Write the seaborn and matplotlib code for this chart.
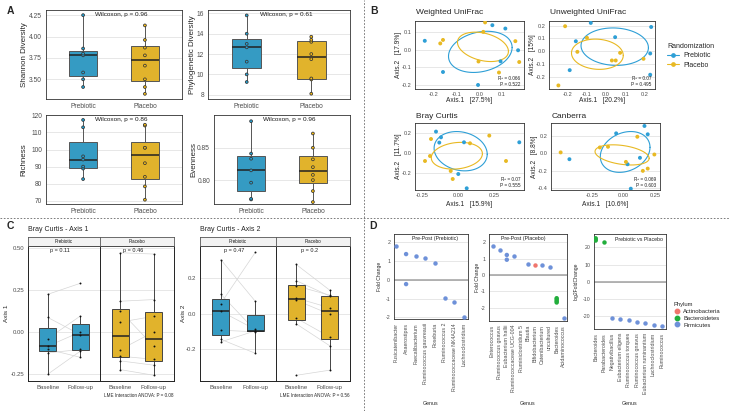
import numpy as np
import pandas as pd
import matplotlib
matplotlib.use("Agg")
import matplotlib.pyplot as plt
from matplotlib.lines import Line2D
import seaborn as sns

sns.set_style("white")
plt.rcParams["font.family"] = ["Liberation Sans", "DejaVu Sans"]
plt.rcParams["axes.unicode_minus"] = False

W, H = 729, 411

# ---------------- Panel A data ----------------
groups = ["Prebiotic", "Placebo"]
shannon_prebiotic = [3.41, 3.50, 3.58, 3.78, 3.80, 3.86, 4.25]
shannon_placebo = [3.33, 3.41, 3.50, 3.66, 3.78, 3.87, 3.96, 4.13]
pd_prebiotic = [9.25, 10.0, 11.25, 12.66, 13.0, 14.0, 15.8]
pd_placebo = [8.1, 9.5, 9.6, 11.5, 12.0, 13.2, 13.4, 13.7]
richness_prebiotic = [82.7, 88.8, 90.0, 94.1, 96.0, 113.0, 117.3]
richness_placebo = [70.6, 78.4, 84.0, 92.0, 101.0, 101.0, 114.0, 114.5]
evenness_prebiotic = [0.770, 0.771, 0.796, 0.815, 0.833, 0.841, 0.891]
evenness_placebo = [0.766, 0.783, 0.800, 0.808, 0.820, 0.832, 0.850, 0.872]
wilcoxon_p = ["0.96", "0.61", "0.86", "0.96"]

# ---------------- Panel B data ----------------
wu_pre_x = [-0.24, -0.16, 0.057, 0.114, 0.17, 0.093, -0.006]
wu_pre_y = [0.052, -0.126, 0.141, 0.122, -0.002, -0.065, -0.2]
wu_pla_x = [-0.172, -0.16, 0.025, 0.017, 0.158, 0.175, -0.004, 0.086]
wu_pla_y = [0.037, 0.057, 0.157, 0.103, 0.05, -0.069, -0.066, -0.129]

uu_pre_x = [-0.08, 0.235, 0.047, -0.158, 0.23, -0.19, 0.23]
uu_pre_y = [0.222, 0.19, 0.11, 0.078, -0.018, -0.149, -0.185]
uu_pla_x = [-0.214, -0.10, 0.073, 0.03, 0.05, 0.195, -0.249, -0.15]
uu_pla_y = [0.196, 0.105, -0.013, -0.073, -0.073, -0.06, -0.269, -0.005]

bc_pre_x = [-0.156, -0.121, -0.133, 0.04, 0.427, 0.0, 0.059]
bc_pre_y = [0.217, 0.16, 0.107, 0.11, 0.11, -0.207, -0.35]
bc_pla_x = [-0.191, 0.082, 0.217, 0.334, -0.198, -0.053, -0.039, -0.233]
bc_pla_y = [0.143, 0.10, 0.177, -0.077, -0.027, -0.177, -0.257, -0.077]

ca_pre_x = [-0.433, -0.06, 0.166, 0.192, 0.13, 0.031, 0.057]
ca_pre_y = [-0.066, 0.231, 0.316, 0.22, -0.05, -0.124, -0.405]
ca_pla_x = [-0.503, -0.19, -0.125, 0.109, 0.245, 0.018, 0.153, 0.192]
ca_pla_y = [0.012, 0.069, 0.077, 0.192, -0.012, -0.097, -0.2, -0.174]

beta_titles = ["Weighted UniFrac", "Unweighted UniFrac", "Bray Curtis", "Canberra"]
beta_axis1 = ["27.5%", "20.2%", "15.9%", "10.6%"]
beta_axis2 = ["17.9%", "15%", "11.7%", "8.8%"]
beta_r2 = ["0.066", "0.07", "0.07", "0.069"]
beta_p = ["0.522", "0.495", "0.555", "0.603"]

# ---------------- Panel C data ----------------
times = ["Baseline", "Follow-up"]
c1_pre_base = [0.226, 0.089, -0.038, -0.083, -0.101, -0.123, -0.25]
c1_pre_follow = [0.292, -0.014, 0.097, 0.002, -0.149, -0.102, -0.112]
c1_pla_base = [0.474, 0.185, 0.127, 0.061, -0.103, -0.142, -0.17, -0.222]
c1_pla_follow = [0.466, 0.195, -0.083, 0.095, 0.002, -0.161, -0.196, -0.256]
c2_pre_base = [0.304, 0.109, 0.056, 0.013, -0.094, -0.145, -0.16]
c2_pre_follow = [0.069, -0.096, 0.344, -0.09, -0.103, -0.224, -0.098]
c2_pla_base = [0.276, 0.185, 0.155, 0.087, 0.075, -0.026, -0.058, -0.348]
c2_pla_follow = [0.131, 0.098, 0.103, 0.032, -0.004, -0.132, -0.182, -0.319]
c1_p = ["0.11", "0.46"]
c2_p = ["0.47", "0.2"]
lme_p = ["0.08", "0.56"]

# ---------------- Panel D data ----------------
phyla = ["Actinobacteria", "Bacteroidetes", "Firmicutes"]
d1_order = ["Fusicatenibacter", "Anaerostipes", "Faecalibacterium", "Ruminococcus gauvreauii",
            "Roseburia", "Ruminococcus 2", "Ruminococcaceae NK4A214", "Lachnoclostridium"]
d1_genus = ["Fusicatenibacter", "Anaerostipes", "Anaerostipes", "Faecalibacterium",
            "Ruminococcus gauvreauii", "Roseburia", "Ruminococcus 2", "Ruminococcaceae NK4A214",
            "Lachnoclostridium"]
d1_fc = [1.78, 1.37, -0.23, 1.28, 1.17, 0.91, -0.96, -1.19, -2.0]
d1_phylum = ["Firmicutes"] * 9

d2_order = ["Enterococcus", "Ruminococcus gnavus", "Eubacterium hallii", "Ruminococcaceae UCG-004",
            "Ruminiclostridium 5", "Blautia", "Bifidobacterium", "Catenibacterium", "uncultured",
            "Bacteroides", "Acidaminococcus"]
d2_genus = ["Enterococcus", "Ruminococcus gnavus", "Eubacterium hallii", "Eubacterium hallii",
            "Ruminococcaceae UCG-004", "Blautia", "Bifidobacterium", "Catenibacterium", "uncultured",
            "Bacteroides", "Bacteroides", "Bacteroides", "Bacteroides", "Acidaminococcus"]
d2_fc = [1.75, 1.5, 1.22, 0.93, 1.13, 0.67, 0.61, 0.6, 0.51, -1.42, -1.5, -1.6, -1.68, -2.65]
d2_phylum = ["Firmicutes"] * 6 + ["Actinobacteria", "Firmicutes", "Firmicutes"] + \
            ["Bacteroidetes"] * 4 + ["Firmicutes"]

d3_order = ["Bacteroides", "Parabacteroides", "Negativibacillus", "Eubacterium eligens",
            "Ruminococcus torques", "Ruminococcus gnavus", "Eubacterium ruminantium",
            "Lachnoclostridium", "Ruminococcus"]
d3_genus = ["Bacteroides", "Bacteroides", "Bacteroides", "Parabacteroides", "Negativibacillus",
            "Eubacterium eligens", "Ruminococcus torques", "Ruminococcus gnavus",
            "Eubacterium ruminantium", "Lachnoclostridium", "Ruminococcus"]
d3_lfc = [25.2, 24.5, 23.9, 23.2, -20.8, -21.4, -22.0, -23.2, -24.1, -25.1, -25.5]
d3_phylum = ["Bacteroidetes"] * 4 + ["Firmicutes"] * 7

# ---------------- styles ----------------
box_pal = {"Prebiotic": "#1EA5DA", "Placebo": "#FFC20E"}
pt_pal = {"Prebiotic": "#2E9FD6", "Placebo": "#E8B923"}
phylum_pal = {"Actinobacteria": "#F0766D", "Bacteroidetes": "#22AE3C", "Firmicutes": "#6E91D9"}
SPINE = "#333333"
TICKC = "#4D4D4D"
GRID = "#E3E3E3"

fig = plt.figure(figsize=(W / 100, H / 100), dpi=100)


def px_axes(l, t, r, b):
    return fig.add_axes([l / W, 1 - b / H, (r - l) / W, (b - t) / H])


def ftext(x, y, s, **kw):
    fig.text(x / W, 1 - y / H, s, **kw)


def style(ax, fs=4.8, spine=SPINE, lw=0.6, pad=1.2):
    for sp in ax.spines.values():
        sp.set_visible(True)
        sp.set_color(spine)
        sp.set_linewidth(lw)
    ax.tick_params(length=1.6, width=0.4, color=SPINE, labelcolor=TICKC, labelsize=fs, pad=pad)
    ax.set_axisbelow(True)
    ax.grid(axis="y", color=GRID, lw=0.6)
    ax.grid(axis="x", visible=False)
    ax.set_xlabel("")
    ax.set_ylabel("")


# ---------------- Panel A ----------------
def alpha_panel(box, pre, pla, ylim, yticks, ylab, ylab_x, ptxt):
    ax = px_axes(*box)
    df = pd.DataFrame({"group": ["Prebiotic"] * len(pre) + ["Placebo"] * len(pla),
                       "value": pre + pla})
    sns.boxplot(data=df, x="group", y="value", hue="group", order=groups, hue_order=groups,
                palette=box_pal, width=0.45, showfliers=False, showcaps=False,
                linecolor="#555555", linewidth=0.7,
                medianprops=dict(color="#222222", linewidth=1.1), legend=False, ax=ax)
    sns.stripplot(data=df, x="group", y="value", hue="group", order=groups, hue_order=groups,
                  palette=box_pal, jitter=False, size=2.0, linewidth=0.6, edgecolor="#3a3a3a",
                  legend=False, ax=ax)
    ax.set_xlim(-0.6, 1.6)
    ax.set_ylim(*ylim)
    ax.set_yticks([v for v, _ in yticks])
    ax.set_yticklabels([s for _, s in yticks])
    style(ax, fs=4.8)
    ax.text(0.55, 0.945, "Wilcoxon, p = " + ptxt, transform=ax.transAxes, ha="center",
            va="center", fontsize=4.6, color="#1a1a1a")
    l, t, r, b = box
    ftext(ylab_x, (t + b) / 2, ylab, rotation=90, ha="center", va="center", fontsize=5.8)
    return ax


alpha_panel((46, 10, 182, 99), shannon_prebiotic, shannon_placebo, (3.27, 4.31),
            [(3.5, "3.50"), (3.75, "3.75"), (4.0, "4.00"), (4.25, "4.25")],
            "Shannon Diversity", 24, wilcoxon_p[0])
alpha_panel((208, 10, 350, 99), pd_prebiotic, pd_placebo, (7.58, 16.33),
            [(8, "8"), (10, "10"), (12, "12"), (14, "14"), (16, "16")],
            "Phylogenetic Diversity", 192, wilcoxon_p[1])
alpha_panel((46, 115, 182, 204), richness_prebiotic, richness_placebo, (68.1, 120.2),
            [(70, "70"), (80, "80"), (90, "90"), (100, "100"), (110, "110"), (120, "120")],
            "Richness", 24, wilcoxon_p[2])
alpha_panel((214, 115, 350, 204), evenness_prebiotic, evenness_placebo, (0.763, 0.9006),
            [(0.80, "0.80"), (0.85, "0.85")],
            "Evenness", 194, wilcoxon_p[3])


# ---------------- Panel B ----------------
def conf_ellipse(xv, yv, level=0.95, npoint=100):
    """Confidence ellipse around the group barycentre (cov / n, chi-square radius)."""
    pts = np.column_stack([xv, yv])
    mu = pts.mean(axis=0)
    cov = np.cov(pts.T) / len(xv)
    t = np.sqrt(-2.0 * np.log(1.0 - level))
    ang = np.linspace(0, 2 * np.pi, npoint)
    circ = np.column_stack([np.cos(ang), np.sin(ang)])
    L = np.linalg.cholesky(cov)
    e = mu + t * (circ @ L.T)
    return e[:, 0], e[:, 1]


def beta_panel(box, px_, py_, qx_, qy_, xlim, ylim, xt, yt, i, ylab_x, xlab_y, title_y):
    ax = px_axes(*box)
    df = pd.DataFrame({"Axis.1": px_ + qx_, "Axis.2": py_ + qy_,
                       "Randomization": ["Prebiotic"] * len(px_) + ["Placebo"] * len(qx_)})
    sns.scatterplot(data=df, x="Axis.1", y="Axis.2", hue="Randomization", hue_order=groups,
                    palette=pt_pal, s=8, linewidth=0, legend=False, ax=ax, zorder=3)
    for g in groups:
        sub = df[df["Randomization"] == g]
        ex, ey = conf_ellipse(sub["Axis.1"].to_numpy(), sub["Axis.2"].to_numpy())
        ax.plot(ex, ey, color=pt_pal[g], lw=0.8, zorder=2)
    ax.set_xlim(*xlim)
    ax.set_ylim(*ylim)
    ax.set_xticks([v for v, _ in xt])
    ax.set_xticklabels([s for _, s in xt])
    ax.set_yticks([v for v, _ in yt])
    ax.set_yticklabels([s for _, s in yt])
    style(ax, fs=4.1, pad=0.8)
    ax.text(0.965, 0.155, "R\u00b2 = " + beta_r2[i], transform=ax.transAxes, ha="right",
            va="center", fontsize=3.4, color="#222222")
    ax.text(0.965, 0.06, "P = " + beta_p[i], transform=ax.transAxes, ha="right",
            va="center", fontsize=3.4, color="#222222")
    l, t, r, b = box
    ftext(l + 1, title_y, beta_titles[i], ha="left", va="center", fontsize=6)
    ftext((l + r) / 2, xlab_y, "Axis.1   [" + beta_axis1[i] + "]", ha="center",
          va="center", fontsize=4.8)
    ftext(ylab_x, (t + b) / 2, "Axis.2   [" + beta_axis2[i] + "]", rotation=90,
          ha="center", va="center", fontsize=4.8)
    return ax


t1 = [(-0.2, "-0.2"), (-0.1, "-0.1"), (0.0, "0.0"), (0.1, "0.1")]
t2 = [(-0.2, "-0.2"), (-0.1, "-0.1"), (0.0, "0.0"), (0.1, "0.1"), (0.2, "0.2")]
t3 = [(-0.25, "-0.25"), (0.0, "0.00"), (0.25, "0.25")]
t4 = [(-0.2, "-0.2"), (0.0, "0.0"), (0.2, "0.2")]
t5 = [(-0.4, "-0.4"), (-0.2, "-0.2"), (0.0, "0.0"), (0.2, "0.2")]

beta_panel((415, 21, 524, 89), wu_pre_x, wu_pre_y, wu_pla_x, wu_pla_y,
           (-0.283, 0.196), (-0.223, 0.165), t1, t1, 0, 399, 100, 13)
beta_panel((549, 21, 655, 89), uu_pre_x, uu_pre_y, uu_pla_x, uu_pla_y,
           (-0.298, 0.255), (-0.297, 0.237), t2, t2, 1, 533, 100, 13)
beta_panel((415, 123, 524, 190), bc_pre_x, bc_pre_y, bc_pla_x, bc_pla_y,
           (-0.303, 0.46), (-0.367, 0.303), t3, t4, 2, 399, 204, 116)
beta_panel((551, 123, 660, 190), ca_pre_x, ca_pre_y, ca_pla_x, ca_pla_y,
           (-0.58, 0.29), (-0.42, 0.35), t3, t5, 3, 534, 204, 116)

handles = [Line2D([0], [0], color=pt_pal[g], marker="o", markersize=2.4, lw=0.8) for g in groups]
leg = fig.legend(handles, groups, title="Randomization", loc="upper left",
                 bbox_to_anchor=(667 / W, 1 - 43 / H), frameon=False, fontsize=5,
                 title_fontsize=5, handlelength=1.7, handletextpad=0.6, labelspacing=0.35,
                 borderpad=0, borderaxespad=0)
leg._legend_box.align = "left"


# ---------------- Panel C ----------------
def c_facet(box, strip_label, base, fol, color, ylim, yticks, show_y, ptxt):
    ax = px_axes(*box)
    n = len(base)
    df = pd.DataFrame({"time": ["Baseline"] * n + ["Follow-up"] * n, "value": base + fol})
    for s in range(n):
        ax.plot([times.index("Baseline"), times.index("Follow-up")], [base[s], fol[s]],
                color="#D6D6D6", lw=0.5, zorder=1)
    sns.boxplot(data=df, x="time", y="value", order=times, color=color, width=0.5,
                showfliers=False, showcaps=False, linecolor="#444444", linewidth=0.7,
                medianprops=dict(color="#222222", linewidth=1.1), ax=ax)
    sns.stripplot(data=df, x="time", y="value", order=times, color="#111111", jitter=False,
                  size=1.4, linewidth=0, ax=ax)
    ax.set_xlim(-0.6, 1.6)
    ax.set_ylim(*ylim)
    ax.set_yticks([v for v, _ in yticks])
    ax.set_yticklabels([s for _, s in yticks] if show_y else [])
    style(ax, fs=4.3, spine="#222222", lw=0.7)
    if not show_y:
        ax.tick_params(axis="y", length=0)
    ax.text(0.45, 0.963, "p = " + ptxt, transform=ax.transAxes, ha="center", va="center",
            fontsize=4, color="#222222")
    l, t, r, b = box
    sax = px_axes(l, t - 9, r, t)
    sax.set_xticks([])
    sax.set_yticks([])
    sax.set_facecolor("#F2F2F2")
    for sp in sax.spines.values():
        sp.set_color("#555555")
        sp.set_linewidth(0.6)
    sax.text(0.5, 0.5, strip_label, transform=sax.transAxes, ha="center", va="center",
             fontsize=3.3, color="#1a1a1a")
    return ax


ya1 = [(-0.25, "-0.25"), (0.0, "0.00"), (0.25, "0.25"), (0.5, "0.50")]
ya2 = [(-0.2, "-0.2"), (0.0, "0.0"), (0.2, "0.2")]
c_facet((28, 246, 100, 381), "Prebiotic", c1_pre_base, c1_pre_follow, box_pal["Prebiotic"],
        (-0.29, 0.514), ya1, True, c1_p[0])
c_facet((100, 246, 174, 381), "Placebo", c1_pla_base, c1_pla_follow, box_pal["Placebo"],
        (-0.29, 0.514), ya1, False, c1_p[1])
c_facet((200, 246, 276, 381), "Prebiotic", c2_pre_base, c2_pre_follow, box_pal["Prebiotic"],
        (-0.38, 0.38), ya2, True, c2_p[0])
c_facet((276, 246, 350, 381), "Placebo", c2_pla_base, c2_pla_follow, box_pal["Placebo"],
        (-0.38, 0.38), ya2, False, c2_p[1])

ftext(28, 229, "Bray Curtis - Axis 1", ha="left", va="center", fontsize=5)
ftext(200, 229, "Bray Curtis - Axis 2", ha="left", va="center", fontsize=5)
ftext(6, 313, "Axis 1", rotation=90, ha="center", va="center", fontsize=4.6)
ftext(184, 313, "Axis 2", rotation=90, ha="center", va="center", fontsize=4.6)
ftext(174, 395, "LME Interaction ANOVA: P = " + lme_p[0], ha="right", va="center",
      fontsize=3.3)
ftext(350, 395, "LME Interaction ANOVA: P = " + lme_p[1], ha="right", va="center",
      fontsize=3.3)


# ---------------- Panel D ----------------
def d_panel(box, genus, vals, phylum, order, xlim, ylim, yticks, title, title_fx, ylab,
            ylab_x):
    ax = px_axes(*box)
    df = pd.DataFrame({"Genus": genus, "FC": vals, "Phylum": phylum})
    ax.axhline(0, color="#A0A0A0", lw=1.1, zorder=1)
    sns.stripplot(data=df, x="Genus", y="FC", hue="Phylum", order=order, hue_order=phyla,
                  palette=phylum_pal, jitter=False, size=3.2, linewidth=0, legend=False,
                  ax=ax, zorder=3)
    ax.set_xlim(*xlim)
    ax.set_ylim(*ylim)
    ax.set_yticks([v for v, _ in yticks])
    ax.set_yticklabels([s for _, s in yticks])
    style(ax, fs=3.8)
    ax.tick_params(axis="x", labelrotation=90, labelsize=3.8)
    ax.text(title_fx, 0.945, title, transform=ax.transAxes, ha="center", va="center",
            fontsize=3.8, color="#222222")
    l, t, r, b = box
    ftext((l + r) / 2, 403, "Genus", ha="center", va="center", fontsize=3.8)
    ftext(ylab_x, (t + b) / 2, ylab, rotation=90, ha="center", va="center", fontsize=3.6)
    return ax


yd = [(-2, "-2"), (-1, "-1"), (0, "0"), (1, "1"), (2, "2")]
yd3 = [(-20, "-20"), (-10, "-10"), (0, "0"), (10, "10"), (20, "20")]
d_panel((394, 234, 468, 319), d1_genus, d1_fc, d1_phylum, d1_order, (-0.25, 7.4),
        (-2.09, 2.44), yd, "Pre-Post (Prebiotic)", 0.55, "Fold Change", 379)
d_panel((489, 234, 567, 321), d2_genus, d2_fc, d2_phylum, d2_order, (-0.5, 10.45),
        (-2.81, 2.5), yd, "Pre-Post (Placebo)", 0.44, "Fold Change", 477)
d_panel((594, 234, 666, 329), d3_genus, d3_lfc, d3_phylum, d3_order, (-0.2, 8.5),
        (-27.4, 27.7), yd3, "Prebiotic vs Placebo", 0.62, "log2FoldChange", 576)

ph_handles = [Line2D([0], [0], color=phylum_pal[p], marker="o", ls="none", markersize=3.2)
              for p in phyla]
leg2 = fig.legend(ph_handles, phyla, title="Phylum", loc="upper left",
                  bbox_to_anchor=(674 / W, 1 - 302 / H), frameon=False, fontsize=4.2,
                  title_fontsize=4.2, handlelength=1.0, handletextpad=0.6, labelspacing=0.3,
                  borderpad=0, borderaxespad=0)
leg2._legend_box.align = "left"

# ---------------- separators and panel letters ----------------
dash = dict(color="#666666", lw=0.6, ls=(0, (2, 2)), transform=fig.transFigure)
fig.add_artist(Line2D([364 / W, 364 / W], [0, 1], **dash))
fig.add_artist(Line2D([0, 1], [1 - 218 / H, 1 - 218 / H], **dash))
for lab, x, y in [("A", 10, 11), ("B", 374, 11), ("C", 10, 226), ("D", 373, 226)]:
    ftext(x, y, lab, ha="center", va="center", fontsize=7.5, fontweight="bold")

fig.savefig("out.png", dpi=100)
